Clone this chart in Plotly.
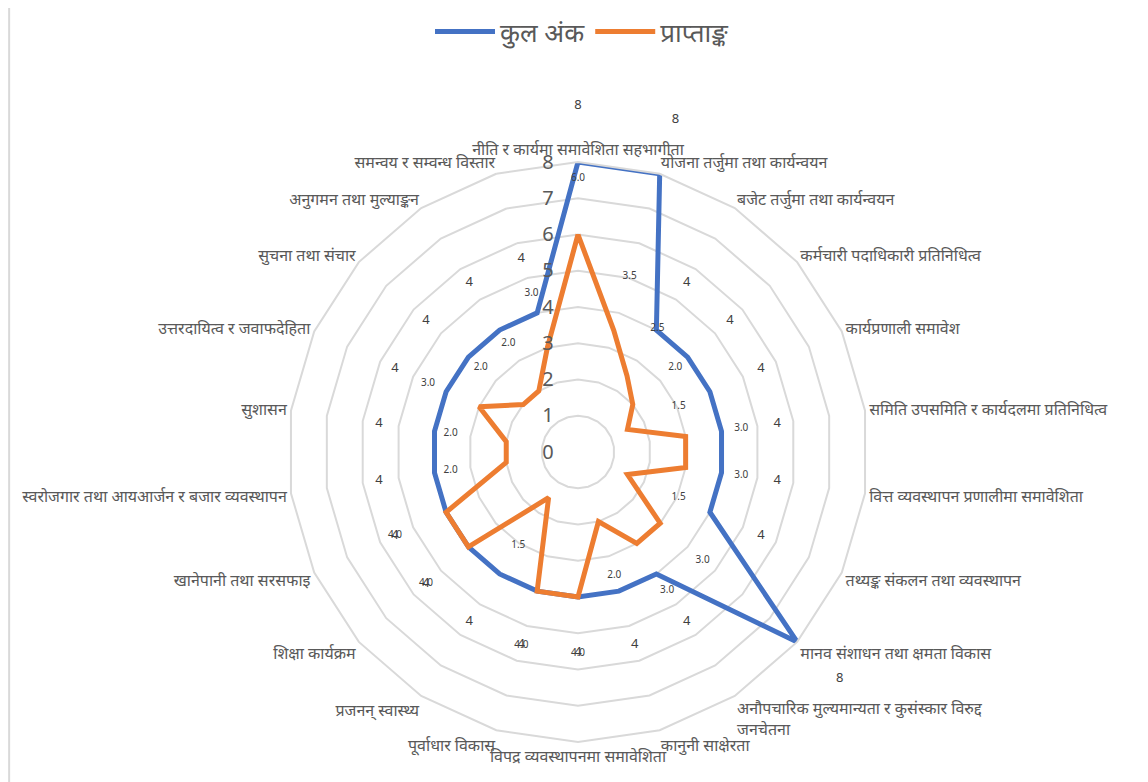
import math
import plotly.graph_objects as go

# categories, clockwise from the top
categories = [
    "नीति र कार्यमा समावेशिता सहभागीता",
    "योजना तर्जुमा तथा कार्यन्वयन",
    "बजेट तर्जुमा तथा कार्यन्वयन",
    "कर्मचारी पदाधिकारी प्रतिनिधित्व",
    "कार्यप्रणाली समावेश",
    "समिति उपसमिति र कार्यदलमा प्रतिनिधित्व",
    "वित्त व्यवस्थापन प्रणालीमा समावेशिता",
    "तथ्यङ्क संकलन तथा व्यवस्थापन",
    "मानव संशाधन तथा क्षमता विकास",
    "अनौपचारिक मुल्यमान्यता र कुसंस्कार विरुद्द<br>जनचेतना",
    "कानुनी साक्षेरता",
    "विपद्र व्यवस्थापनमा समावेशिता",
    "पूर्वाधार विकास",
    "प्रजनन् स्वास्थ्य",
    "शिक्षा कार्यक्रम",
    "खानेपानी तथा सरसफाइ",
    "स्वरोजगार तथा आयआर्जन र बजार व्यवस्थापन",
    "सुशासन",
    "उत्तरदायित्व र जवाफदेहिता",
    "सुचना तथा संचार",
    "अनुगमन तथा मुल्याङ्कन",
    "समन्वय र सम्वन्ध विस्तार",
]

kul_ank = [8, 8, 4, 4, 4, 4, 4, 4, 8, 4, 4, 4, 4, 4, 4, 4, 4, 4, 4, 4, 4, 4]
praptank = [6.0, 3.5, 2.5, 2.0, 1.5, 3.0, 3.0, 1.5, 3.0, 3.0, 2.0, 4.0,
            4.0, 1.5, 4.0, 4.0, 2.0, 2.0, 3.0, 2.0, 2.0, 3.0]

blue = '#4472C4'
orange = '#ED7D31'
label_gap = 1.55  # data labels sit a bit outside each point

# geometry of the radar (pixels, figure coords; page adds an 8px body margin)
W, H = 1148, 782
cx, cy = 570, 444      # centre, from top-left of the figure
R = 290                # radius of the 8 ring
rmax = 8
# second, invisible subplot with the same scale, for labels beyond the 8 ring
rmax2 = 10
R2 = R * rmax2 / rmax
sector2 = [-50, 100]
x_lo = min(0, math.cos(math.radians(sector2[1])))
y_lo = min(0, math.sin(math.radians(sector2[0])))

fig = go.Figure()

fig.add_trace(go.Scatterpolar(r=kul_ank + kul_ank[:1], theta=categories + categories[:1],
                              mode='lines', name='कुल अंक',
                              line=dict(color=blue, width=5)))
fig.add_trace(go.Scatterpolar(r=praptank + praptank[:1], theta=categories + categories[:1],
                              mode='lines', name='प्राप्ताङ्क',
                              line=dict(color=orange, width=5)))

# data labels
outside = [v + label_gap > rmax for v in kul_ank]
fig.add_trace(go.Scatterpolar(r=[None if o else v + label_gap for v, o in zip(kul_ank, outside)],
                              theta=categories, mode='text',
                              text=[str(v) for v in kul_ank],
                              textfont=dict(size=13, color='#404040'),
                              showlegend=False, cliponaxis=False, hoverinfo='skip'))
fig.add_trace(go.Scatterpolar(r=[v + label_gap if o else None for v, o in zip(kul_ank, outside)],
                              theta=categories, mode='text', subplot='polar2',
                              text=[str(v) for v in kul_ank],
                              textfont=dict(size=13, color='#404040'),
                              showlegend=False, cliponaxis=False, hoverinfo='skip'))
fig.add_trace(go.Scatterpolar(r=[v + label_gap for v in praptank], theta=categories,
                              mode='text', text=['%.1f' % v for v in praptank],
                              textfont=dict(size=10, color='#404040'),
                              showlegend=False, cliponaxis=False, hoverinfo='skip'))

fig.update_layout(
    width=W, height=H,
    margin=dict(l=0, r=0, t=0, b=0),
    paper_bgcolor='white',
    font=dict(family='Noto Sans, DejaVu Sans, sans-serif', color='#595959'),
    showlegend=True,
    legend=dict(orientation='h', x=0.5, xanchor='center', y=1.0, yanchor='top',
                font=dict(size=26, color='#595959'), itemwidth=60),
    polar=dict(
        domain=dict(x=[(cx - R) / W, (cx + R) / W],
                    y=[(H - cy - R) / H, (H - cy + R) / H]),
        gridshape='linear',
        bgcolor='white',
        radialaxis=dict(range=[0, rmax], dtick=1, angle=90, side='counterclockwise',
                        tickangle=90, showline=False, ticks='',
                        ticksuffix='\u00a0' * 4,
                        gridcolor='#D9D9D9', gridwidth=2,
                        tickfont=dict(size=20, color='#595959')),
        angularaxis=dict(direction='clockwise', rotation=90, showgrid=False,
                         showline=True, linecolor='#D9D9D9', linewidth=2, ticks='',
                         tickfont=dict(size=16, color='#595959')),
    ),
    polar2=dict(
        domain=dict(x=[(cx + R2 * x_lo) / W, (cx + R2) / W],
                    y=[(H - cy + R2 * y_lo) / H, (H - cy + R2) / H]),
        sector=sector2,
        bgcolor='rgba(0,0,0,0)',
        radialaxis=dict(range=[0, rmax2], visible=False),
        angularaxis=dict(direction='clockwise', rotation=90, visible=False,
                         type='category', categoryarray=categories),
    ),
    shapes=[dict(type='line', xref='paper', yref='paper', x0=0.001, x1=0.001, y0=0, y1=1,
                 line=dict(color='#D9D9D9', width=2))],
)

fig.write_html("out.html")
